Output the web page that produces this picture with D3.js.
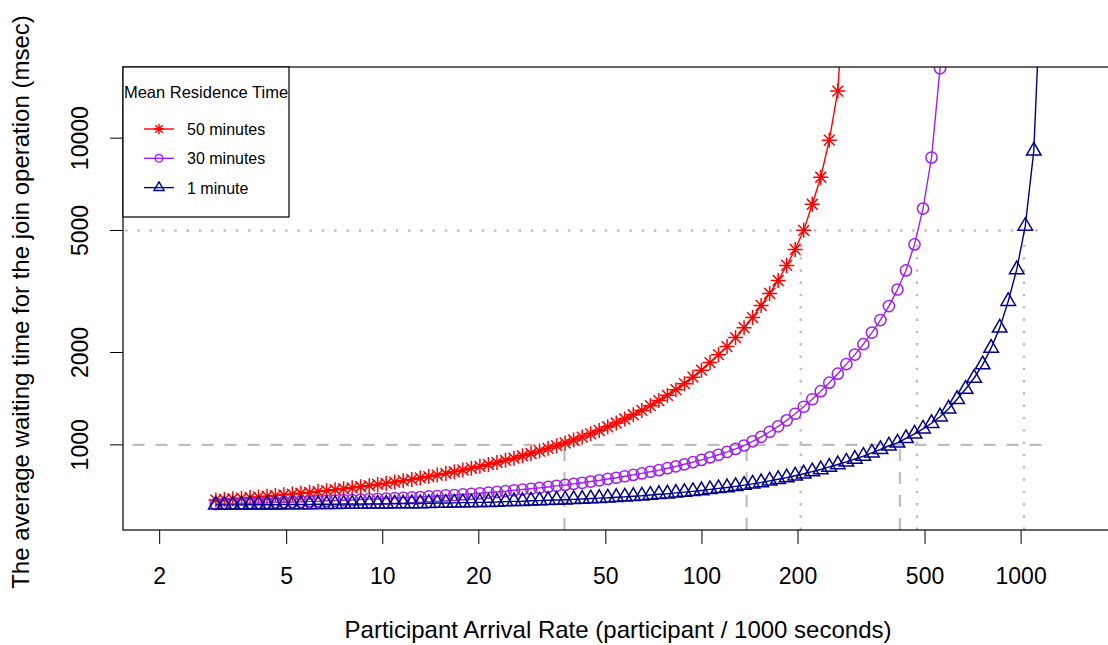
<!DOCTYPE html>
<html>
<head>
<meta charset="utf-8">
<script src="https://cdn.jsdelivr.net/npm/d3@7"></script>
<style>
body { margin: 0; background: #ffffff; }
text { font-family: 'Liberation Sans', Arial, sans-serif; fill: #000; }
</style>
</head>
<body>
<div id="graph"></div>
<script>
// participant arrival rate (participant / 1000 s), shared by all curves
var rates = [3.00, 3.19, 3.39, 3.61, 3.84, 4.08, 4.34, 4.61, 4.90, 5.21,
    5.54, 5.90, 6.27, 6.67, 7.09, 7.54, 8.02, 8.53, 9.07, 9.64,
    10.25, 10.90, 11.59, 12.33, 13.11, 13.94, 14.82, 15.76, 16.76, 17.82,
    18.95, 20.15, 21.43, 22.79, 24.24, 25.77, 27.41, 29.14, 30.99, 32.96,
    35.05, 37.27, 39.63, 42.15, 44.82, 47.66, 50.68, 53.90, 57.31, 60.95,
    64.81, 68.92, 73.29, 77.94, 82.88, 88.13, 93.72, 99.66, 105.98, 112.70,
    119.84, 127.44, 135.52, 144.11, 153.25, 162.96, 173.29, 184.28, 195.96, 208.39,
    221.60, 235.65, 250.59, 266.48, 283.37, 301.34, 320.44, 340.76, 362.37, 385.34,
    409.77, 435.75, 463.37, 492.75, 523.99, 557.21, 592.54, 630.11, 670.06, 712.54,
    757.71, 805.75, 856.83, 911.15, 968.92, 1030.35, 1095.67, 1165.13];

// average waiting time (msec)
var wait50 = [661, 664, 667, 670, 673, 676, 680, 683, 687, 691,
    695, 699, 704, 709, 714, 719, 724, 730, 736, 743,
    749, 756, 764, 771, 780, 788, 797, 807, 817, 828,
    839, 851, 863, 876, 890, 905, 921, 937, 955, 974,
    994, 1014, 1037, 1060, 1086, 1114, 1145, 1178, 1214, 1253,
    1295, 1342, 1394, 1450, 1513, 1583, 1662, 1752, 1854, 1968,
    2091, 2237, 2410, 2600, 2847, 3116, 3435, 3846, 4338, 5004,
    6086, 7456, 9851, 14240, 40000];

var wait30 = [641, 642, 643, 644, 645, 646, 647, 649, 650, 651,
    652, 654, 655, 657, 658, 660, 661, 663, 665, 666,
    668, 670, 672, 674, 676, 679, 681, 684, 686, 689,
    692, 695, 699, 702, 706, 711, 715, 719, 724, 729,
    735, 740, 746, 752, 759, 766, 774, 781, 790, 798,
    807, 817, 827, 839, 851, 864, 878, 893, 910, 928,
    948, 970, 995, 1027, 1062, 1103, 1149, 1202, 1263, 1331,
    1408, 1496, 1595, 1706, 1833, 1969, 2130, 2323, 2552, 2835,
    3210, 3704, 4504, 5893, 8648, 16900, 40000];

var wait1 = [637, 637, 637, 637, 638, 638, 638, 638, 639, 639,
    639, 639, 640, 640, 640, 641, 641, 641, 642, 642,
    642, 643, 643, 644, 644, 645, 646, 646, 647, 648,
    648, 649, 650, 651, 653, 654, 655, 657, 658, 660,
    661, 662, 664, 666, 668, 670, 672, 675, 677, 680,
    682, 686, 690, 693, 697, 701, 705, 710, 716, 721,
    726, 732, 739, 746, 754, 763, 772, 782, 793, 805,
    818, 831, 847, 863, 880, 899, 919, 942, 967, 993,
    1015, 1050, 1086, 1128, 1176, 1235, 1311, 1408, 1521, 1652,
    1826, 2070, 2406, 2940, 3731, 5169, 9088, 40000];

var seriesNames = ['50 minutes', '30 minutes', '1 minute'];
var xTicks = [2, 5, 10, 20, 50, 100, 200, 500, 1000];
var yTicks = [1000, 2000, 5000, 10000];
var xLimits = [1.5352, 1954.3];
var yLimits = [527.6, 17061];

// rates where each curve reaches 1000 and 5000 msec
var cross1000 = [37.1, 138, 417];
var cross5000 = [204, 472, 1021];
var guideSpan = [1, 1160];

function drawChart() {
    var width = 1108,
        height = 645;
    var pLeft = 123, pRight = 1114, pTop = 67, pBottom = 530;

    var colors = ['#ff0000', '#a020f0', '#00008b'];
    var guideGray = '#bebebe';

    var svg = d3.select('#graph')
        .append('svg')
            .attr('width', width)
            .attr('height', height);

    var x = d3.scaleLog().domain(xLimits).range([pLeft, pRight]);
    var y = d3.scaleLog().domain(yLimits).range([pBottom, pTop]);

    svg.append('clipPath')
        .attr('id', 'plotclip')
        .append('rect')
            .attr('x', pLeft)
            .attr('y', pTop)
            .attr('width', pRight - pLeft)
            .attr('height', pBottom - pTop);

    var plot = svg.append('g').attr('clip-path', 'url(#plotclip)');

    // guide lines at 1000 (dashed) and 5000 (dotted)
    plot.append('line')
        .attr('x1', x(guideSpan[0])).attr('x2', x(guideSpan[1]))
        .attr('y1', y(1000)).attr('y2', y(1000))
        .style('stroke', guideGray).style('stroke-width', 2.2)
        .style('stroke-dasharray', '12 11');
    plot.append('line')
        .attr('x1', x(guideSpan[0])).attr('x2', x(guideSpan[1]))
        .attr('y1', y(5000)).attr('y2', y(5000))
        .style('stroke', guideGray).style('stroke-width', 2.4)
        .style('stroke-dasharray', '2.4 9.9');

    plot.selectAll('.v1000')
        .data(cross1000)
        .enter().append('line')
            .attr('x1', function(d) { return x(d); })
            .attr('x2', function(d) { return x(d); })
            .attr('y1', y(yLimits[0]))
            .attr('y2', y(1000))
            .style('stroke', guideGray).style('stroke-width', 2.2)
            .style('stroke-dasharray', '12 11');

    plot.selectAll('.v5000')
        .data(cross5000)
        .enter().append('line')
            .attr('x1', function(d) { return x(d); })
            .attr('x2', function(d) { return x(d); })
            .attr('y1', y(yLimits[0]))
            .attr('y2', y(5000))
            .style('stroke', guideGray).style('stroke-width', 2.4)
            .style('stroke-dasharray', '2.4 9.9');

    var series = [
        { values: wait50, shape: asterisk, size: 7.5, legendSize: 5.2 },
        { values: wait30, shape: ring, size: 5.6, legendSize: 3.8 },
        { values: wait1, shape: triangle, size: 8.4, legendSize: 5.8 }
    ];

    var line = d3.line()
        .x(function(d) { return x(d[0]); })
        .y(function(d) { return y(d[1]); });

    series.forEach(function(s, i) {
        var pts = s.values.map(function(v, j) { return [rates[j], v]; });
        plot.append('path')
            .attr('d', line(pts))
            .style('fill', 'none')
            .style('stroke', colors[i])
            .style('stroke-width', 1.4);
        plot.append('g')
            .selectAll('path')
            .data(pts)
            .enter().append('path')
                .attr('transform', function(d) { return 'translate(' + x(d[0]) + ',' + y(d[1]) + ')'; })
                .attr('d', s.shape(s.size))
                .style('fill', 'none')
                .style('stroke', colors[i])
                .style('stroke-width', 1.5);
    });

    // plot box
    svg.append('rect')
        .attr('x', pLeft).attr('y', pTop)
        .attr('width', pRight - pLeft).attr('height', pBottom - pTop)
        .style('fill', 'none').style('stroke', '#000').style('stroke-width', 1.2);

    // x axis
    var xAxis = svg.append('g');
    xAxis.selectAll('line')
        .data(xTicks)
        .enter().append('line')
            .attr('x1', function(d) { return x(d); })
            .attr('x2', function(d) { return x(d); })
            .attr('y1', pBottom).attr('y2', pBottom + 14)
            .style('stroke', '#000').style('stroke-width', 1);
    xAxis.selectAll('text')
        .data(xTicks)
        .enter().append('text')
            .attr('x', function(d) { return x(d); })
            .attr('y', 584)
            .attr('text-anchor', 'middle')
            .style('font-size', '23px')
            .text(function(d) { return d; });

    // y axis
    var yAxis = svg.append('g');
    yAxis.selectAll('line')
        .data(yTicks)
        .enter().append('line')
            .attr('x1', pLeft - 13).attr('x2', pLeft)
            .attr('y1', function(d) { return y(d); })
            .attr('y2', function(d) { return y(d); })
            .style('stroke', '#000').style('stroke-width', 1);
    yAxis.selectAll('text')
        .data(yTicks)
        .enter().append('text')
            .attr('transform', function(d) { return 'translate(88,' + y(d) + ') rotate(-90)'; })
            .attr('text-anchor', 'middle')
            .style('font-size', '23px')
            .text(function(d) { return d; });

    // x label
    svg.append('text')
        .attr('x', 618)
        .attr('y', 638)
        .attr('text-anchor', 'middle')
        .style('font-size', '24px')
        .text('Participant Arrival Rate (participant / 1000 seconds)');

    // y label
    svg.append('text')
        .attr('transform', 'translate(29,302) rotate(-90)')
        .attr('text-anchor', 'middle')
        .style('font-size', '24px')
        .text('The average waiting time for the join operation (msec)');

    // legend
    var legend = svg.append('g');
    legend.append('rect')
        .attr('x', pLeft).attr('y', pTop)
        .attr('width', 166).attr('height', 150)
        .style('fill', '#fff').style('stroke', '#000').style('stroke-width', 1.2);
    legend.append('text')
        .attr('x', pLeft + 83)
        .attr('y', 97.5)
        .attr('text-anchor', 'middle')
        .style('font-size', '16.5px')
        .text('Mean Residence Time');

    series.forEach(function(s, i) {
        var ly = 129 + i * 29.3;
        legend.append('line')
            .attr('x1', 144).attr('x2', 174)
            .attr('y1', ly).attr('y2', ly)
            .style('stroke', colors[i]).style('stroke-width', 1.4);
        legend.append('path')
            .attr('transform', 'translate(159,' + ly + ')')
            .attr('d', s.shape(s.legendSize))
            .style('fill', 'none')
            .style('stroke', colors[i])
            .style('stroke-width', 1.4);
        legend.append('text')
            .attr('x', 187)
            .attr('y', ly + 6)
            .style('font-size', '16px')
            .text(seriesNames[i]);
    });
}

// marker shapes
function asterisk(r) {
    var a = r * 0.72;
    return 'M' + -r + ',0H' + r + 'M0,' + -r + 'V' + r +
        'M' + -a + ',' + -a + 'L' + a + ',' + a +
        'M' + -a + ',' + a + 'L' + a + ',' + -a;
}
function ring(r) {
    return 'M' + r + ',0A' + r + ',' + r + ' 0 1,1 ' + -r + ',0A' + r + ',' + r + ' 0 1,1 ' + r + ',0Z';
}
function triangle(r) {
    var h = r * Math.sqrt(3) / 2;
    return 'M0,' + -r + 'L' + h + ',' + (r / 2) + 'L' + -h + ',' + (r / 2) + 'Z';
}

drawChart();
</script>
</body>
</html>
